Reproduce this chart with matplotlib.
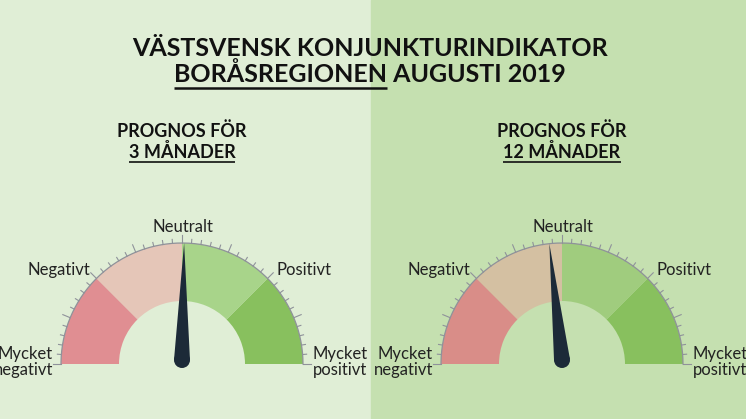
import numpy as np
import matplotlib.pyplot as plt
from matplotlib.patches import Wedge, Polygon, Circle, Rectangle

# Data
title_line1 = 'VÄSTSVENSK KONJUNKTURINDIKATOR'
title_region = 'BORÅSREGIONEN'
title_rest = ' AUGUSTI 2019'
gauge_heads = ['PROGNOS FÖR', 'PROGNOS FÖR']
gauge_periods = ['3 MÅNADER', '12 MÅNADER']
needle_angles = [89.0, 96.0]  # grader, 0 = mycket positivt, 180 = mycket negativt
segment_labels = ['Mycket\npositivt', 'Positivt', 'Neutralt', 'Negativt', 'Mycket\nnegativt']
segment_colors = [
    ['#88c05e', '#a8d48a', '#e5c6b8', '#e08e92'],
    ['#88c05e', '#a0cc7e', '#d4c0a2', '#d98d88'],
]
bg_colors = ['#e0eed6', '#c5e0b0']

W, H = 746, 419
fig = plt.figure(figsize=(W / 100, H / 100), dpi=100)
ax = fig.add_axes([0, 0, 1, 1])
ax.set_xlim(0, W)
ax.set_ylim(0, H)
ax.axis('off')

def Y(y):
    return H - y

# bakgrund
ax.add_patch(Rectangle((0, 0), 371, H, color=bg_colors[0], zorder=0))
ax.add_patch(Rectangle((371, 0), W - 371, H, color=bg_colors[1], zorder=0))

font = 'Lato'
txt_col = '#111111'

def underline(t, lw=1.6, gap=2):
    fig.canvas.draw()
    bb = t.get_window_extent()
    ax.plot([bb.x0, bb.x1], [bb.y0 - gap, bb.y0 - gap], color=txt_col, lw=lw,
            solid_capstyle='butt')

# rubrik
ax.text(370, Y(48), title_line1, ha='center', va='center', fontsize=18,
        fontweight='bold', family=font, color=txt_col)
t_reg = ax.text(370, Y(74), title_region, ha='right', va='center', fontsize=18,
                fontweight='bold', family=font, color=txt_col, alpha=0)
t_full = ax.text(370, Y(74), title_region + title_rest, ha='center', va='center',
                 fontsize=18, fontweight='bold', family=font, color=txt_col)
fig.canvas.draw()
bb_full = t_full.get_window_extent()
t_reg.set_position((bb_full.x0, Y(74)))
t_reg.set_ha('left')
underline(t_reg, lw=1.8)

centers = [(182, 364), (562, 364)]
r_out, r_in = 121, 63

for i, (cx, cy) in enumerate(centers):
    cyy = Y(cy)
    h1 = ax.text(cx, Y(131), gauge_heads[i], ha='center', va='center', fontsize=13,
                 fontweight='bold', family=font, color=txt_col)
    h2 = ax.text(cx, Y(152), gauge_periods[i], ha='center', va='center', fontsize=13,
                 fontweight='bold', family=font, color=txt_col)
    underline(h2, lw=1.2, gap=1)

    # segment
    for k, col in enumerate(segment_colors[i]):
        ax.add_patch(Wedge((cx, cyy), r_out, 45 * k, 45 * (k + 1), width=r_out - r_in,
                           facecolor=col, edgecolor='none', zorder=2))
    # yttre båge
    th = np.linspace(0, np.pi, 200)
    ax.plot(cx + r_out * np.cos(th), cyy + r_out * np.sin(th), color='#8f929a',
            lw=0.9, zorder=3)
    # skalstreck
    for a in np.arange(0, 180.01, 4.5):
        big = abs(a / 22.5 - round(a / 22.5)) < 1e-6
        r2 = r_out + (8 if big else 4)
        ra = np.radians(a)
        ax.plot([cx + r_out * np.cos(ra), cx + r2 * np.cos(ra)],
                [cyy + r_out * np.sin(ra), cyy + r2 * np.sin(ra)],
                color='#8f929a', lw=0.8, zorder=3)

    # etiketter
    lab_kw = dict(fontsize=12, family=font, fontweight='normal', color='#222222',
                  linespacing=1.0)
    ax.text(cx + 1, Y(227), segment_labels[2], ha='center', va='center', **lab_kw)
    ax.text(cx - 92, Y(270), segment_labels[3], ha='right', va='center', **lab_kw)
    ax.text(cx + 95, Y(270), segment_labels[1], ha='left', va='center', **lab_kw)
    ax.text(cx - 129, Y(362), segment_labels[4], ha='right', va='center', **lab_kw)
    ax.text(cx + 131, Y(362), segment_labels[0], ha='left', va='center', **lab_kw)

    # visare
    a = np.radians(needle_angles[i])
    d = np.array([np.cos(a), np.sin(a)])
    p = np.array([-d[1], d[0]])
    c = np.array([cx, cyy + 4])
    tip = np.array([cx, cyy]) + d * r_out
    needle = Polygon([tip, c + p * 8, c - p * 8], closed=True, facecolor='#1c2a38',
                     edgecolor='none', zorder=4)
    ax.add_patch(needle)
    ax.add_patch(Circle(c, 8, facecolor='#1c2a38', edgecolor='none', zorder=4))

fig.savefig('out.png', dpi=100)
